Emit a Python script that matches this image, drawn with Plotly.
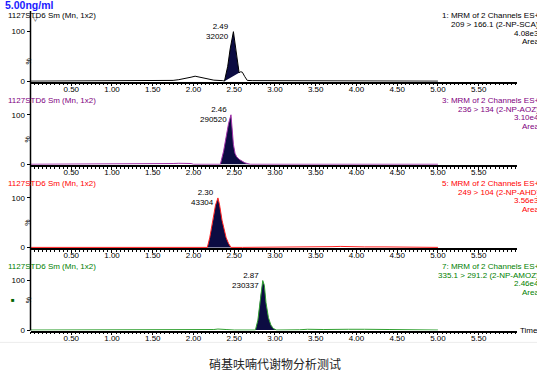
import plotly.graph_objects as go
from plotly.subplots import make_subplots

W, H = 537, 384

# ---------------- data ----------------
p1_time = [0, 0.5, 1.0, 1.25, 1.5, 1.7, 1.75, 1.82, 1.9, 1.97, 2.02, 2.08, 2.16, 2.25, 2.36, 2.38, 2.42, 2.45, 2.49,
           2.52, 2.55, 2.56, 2.58, 2.60, 2.63, 2.66, 2.72, 2.8, 3.0, 3.2, 3.3, 3.45, 3.6, 3.7, 3.9, 4.1, 4.25, 4.4, 4.7, 5.0]
p1_int = [0, 0, 0, 0.5, 0.5, 1, 1.5, 3, 5, 8, 10, 8, 4, 2, 1, 0, 30, 65, 100,
          62, 28, 17, 19, 18, 9, 1.5, 1, 1, 0.5, 1, 1.5, 1, 1.5, 1, 1, 1, 1, 0, 0, 0]

p2_time = [0, 1.0, 1.7, 1.75, 1.82, 1.9, 1.97, 2.0, 2.2, 2.33, 2.37, 2.40, 2.43, 2.46, 2.47, 2.49, 2.51, 2.53,
           2.56, 2.59, 2.63, 2.67, 2.70, 3.0, 3.3, 3.35, 3.5, 3.7, 3.75, 3.85, 3.88, 3.92, 4.05, 4.1, 4.15, 5.0]
p2_int = [0, 0, 0, 1.5, 2, 2, 1.5, 0, 0, 0, 27, 55, 82, 100, 75, 40, 22, 15,
          10, 7, 3, 1, 0, 0, 0, 1.5, 1.5, 1.5, 0, 0, 1.5, 0, 0, 1, 0, 0]

p3_time = [0, 0.5, 0.9, 1.0, 1.4, 1.5, 1.6, 1.9, 2.17, 2.20, 2.24, 2.27, 2.30, 2.32, 2.35, 2.38, 2.40, 2.43, 2.46,
           2.6, 3.0, 3.3, 3.5, 3.7, 3.8, 3.9, 4.1, 4.35, 4.6, 5.0]
p3_int = [0, 0, 0.5, 0, 0.5, 1, 0.5, 0, 0, 20, 55, 85, 100, 86, 55, 32, 20, 8, 0,
          0, 0, 0.5, 1, 1.5, 2, 1.5, 1, 1, 0.5, 0]

p4_time = [0, 1.0, 1.75, 1.8, 1.9, 2.0, 2.25, 2.3, 2.35, 2.4, 2.5, 2.76, 2.79, 2.82, 2.85, 2.87, 2.89, 2.92, 2.95,
           2.98, 3.02, 3.3, 3.4, 3.6, 3.8, 3.9, 4.1, 4.3, 4.4, 5.0]
p4_int = [0, 0, 0, 1, 0.5, 0, 1, 2, 2, 1, 0, 0, 20, 65, 100, 90, 55, 25, 10,
          3, 0, 0.5, 1.5, 1, 2, 1.5, 1.5, 2, 1, 0]

peak_windows = [(2.38, 2.56), (2.33, 2.70), (2.17, 2.46), (2.76, 3.02)]
peak_rt = ["2.49", "2.46", "2.30", "2.87"]
peak_apex = [2.49, 2.46, 2.30, 2.85]
peak_area = ["32020", "290520", "43304", "230337"]

header_labels = ["1127STD6 Sm (Mn, 1x2)"] * 4
channel_text = [
    ["1: MRM of 2 Channels ES+", "209 > 166.1 (2-NP-SCA)", "4.08e3", "Area"],
    ["3: MRM of 2 Channels ES+", "236 > 134 (2-NP-AOZ)", "3.10e4", "Area"],
    ["5: MRM of 2 Channels ES+", "249 > 104 (2-NP-AHD)", "3.56e3", "Area"],
    ["7: MRM of 2 Channels ES+", "335.1 > 291.2 (2-NP-AMOZ)", "2.46e4", "Area"],
]
xtick_vals = [0.5, 1.0, 1.5, 2.0, 2.5, 3.0, 3.5, 4.0, 4.5, 5.0, 5.5]
xtick_text = ["0.50", "1.00", "1.50", "2.00", "2.50", "3.00", "3.50", "4.00", "4.50", "5.00", "5.50"]
ytick_vals = [0, 100]
ytick_text = ["0", "100"]
title_conc = "5.00ng/ml"
caption = "硝基呋喃代谢物分析测试"

# ---------------- style ----------------
line_colors = ["#000000", "#a030a8", "#ff2020", "#30a030"]
text_colors = ["#000000", "#800080", "#ff0000", "#008000"]
fill_color = "#0c0c42"
FONT = "Arial, Liberation Sans, sans-serif"

def px_x(p):
    return p / W

def px_y(p):
    return 1 - p / H

zero_px = [82, 166, 250, 333.5]
label_px = [16, 101.5, 185.5, 269.5]

times = [p1_time, p2_time, p3_time, p4_time]
ints = [p1_int, p2_int, p3_int, p4_int]

fig = make_subplots(rows=4, cols=1)
annotations = []
for i in range(4):
    t, y = times[i], ints[i]
    lo, hi = peak_windows[i]
    ft = [a for a in t if lo <= a <= hi]
    fy = [b for a, b in zip(t, y) if lo <= a <= hi]
    fig.add_trace(go.Scatter(x=ft, y=fy, fill="toself", fillcolor=fill_color, mode="lines",
                             line=dict(width=0), hoverinfo="skip", showlegend=False), row=i + 1, col=1)
    fig.add_trace(go.Scatter(x=t, y=y, mode="lines", line=dict(color=line_colors[i], width=1),
                             showlegend=False), row=i + 1, col=1)
    bottom = zero_px[i] + 0.5
    top = bottom - 111 * 0.5
    fig.update_xaxes(row=i + 1, col=1, domain=[px_x(30.5), px_x(517)], range=[0, 5.97],
                     tickmode="array", tickvals=xtick_vals, ticktext=xtick_text,
                     ticks="outside", ticklen=3, tickwidth=1, tickcolor="black",
                     ticklabelstandoff=-4,
                     showline=True, linecolor="black", linewidth=1.5, showgrid=False, zeroline=False,
                     tickfont=dict(size=8, family=FONT, color="black"),
                     minor=dict(tickmode="linear", tick0=0, dtick=0.05, ticks="outside", ticklen=2,
                                tickcolor="black", tickwidth=1, showgrid=False))
    fig.update_yaxes(row=i + 1, col=1, domain=[px_y(bottom), px_y(top)], range=[-1, 110],
                     tickmode="array", tickvals=ytick_vals, ticktext=ytick_text,
                     ticks="outside", ticklen=3, tickcolor="black", showline=False,
                     showgrid=False, zeroline=False, tickfont=dict(size=8, family=FONT, color="black"))
    xr = "x" if i == 0 else f"x{i + 1}"
    yr = "y" if i == 0 else f"y{i + 1}"
    # apex label
    annotations.append(dict(x=peak_apex[i], y=100, xref=xr, yref=yr, text=f"{peak_rt[i]}<br>{peak_area[i]}",
                            showarrow=False, xanchor="right", yanchor="middle", align="right", xshift=-2,
                            font=dict(size=8, family=FONT, color="black")))
    # % label
    annotations.append(dict(x=px_x(22.5), y=px_y(zero_px[i] - 25), xref="paper", yref="paper", text="%",
                            textangle=-90, showarrow=False, font=dict(size=7, family=FONT, color="black")))
    # header label
    annotations.append(dict(x=px_x(6), y=px_y(label_px[i]), xref="paper", yref="paper", text=header_labels[i],
                            showarrow=False, xanchor="left", yanchor="middle",
                            font=dict(size=8, family=FONT, color=text_colors[i])))
    for k, line in enumerate(channel_text[i]):
        annotations.append(dict(x=px_x(541), y=px_y(label_px[i] + 8.7 * k), xref="paper", yref="paper",
                                text=line, showarrow=False, xanchor="right", yanchor="middle",
                                font=dict(size=8, family=FONT, color=text_colors[i])))

annotations.append(dict(x=px_x(56), y=px_y(5), xref="paper", yref="paper", text=f"<b>{title_conc}</b>",
                        showarrow=False, xanchor="right", yanchor="middle",
                        font=dict(size=10.5, family=FONT, color="#1a1aff")))
annotations.append(dict(x=px_x(518), y=px_y(333.5), xref="paper", yref="paper", text="Time",
                        showarrow=False, xanchor="left", yanchor="middle",
                        font=dict(size=8, family=FONT, color="black")))
annotations.append(dict(x=px_x(9), y=px_y(308), xref="paper", yref="paper", text="■",
                        showarrow=False, font=dict(size=6, family=FONT, color="#006400")))
annotations.append(dict(x=px_x(31), y=px_y(14), xref="paper", yref="paper", text="▽",
                        showarrow=False, font=dict(size=6, family=FONT, color="black")))
annotations.append(dict(x=px_x(275), y=px_y(367), xref="paper", yref="paper", text=caption,
                        showarrow=False, xanchor="center", yanchor="middle",
                        font=dict(size=12, family="Noto Sans CJK SC", color="#222222")))

shapes = [
    dict(type="line", xref="paper", yref="paper", x0=px_x(30.5), x1=px_x(30.5), y0=px_y(11), y1=px_y(334),
         line=dict(color="black", width=1.5)),
    dict(type="line", xref="paper", yref="paper", x0=0, x1=1, y0=px_y(346), y1=px_y(346),
         line=dict(color="#ececec", width=1)),
]

fig.update_layout(width=W, height=H, margin=dict(l=0, r=0, t=0, b=0),
                  paper_bgcolor="white", plot_bgcolor="white", showlegend=False,
                  annotations=annotations, shapes=shapes)
fig.write_html("out.html")
